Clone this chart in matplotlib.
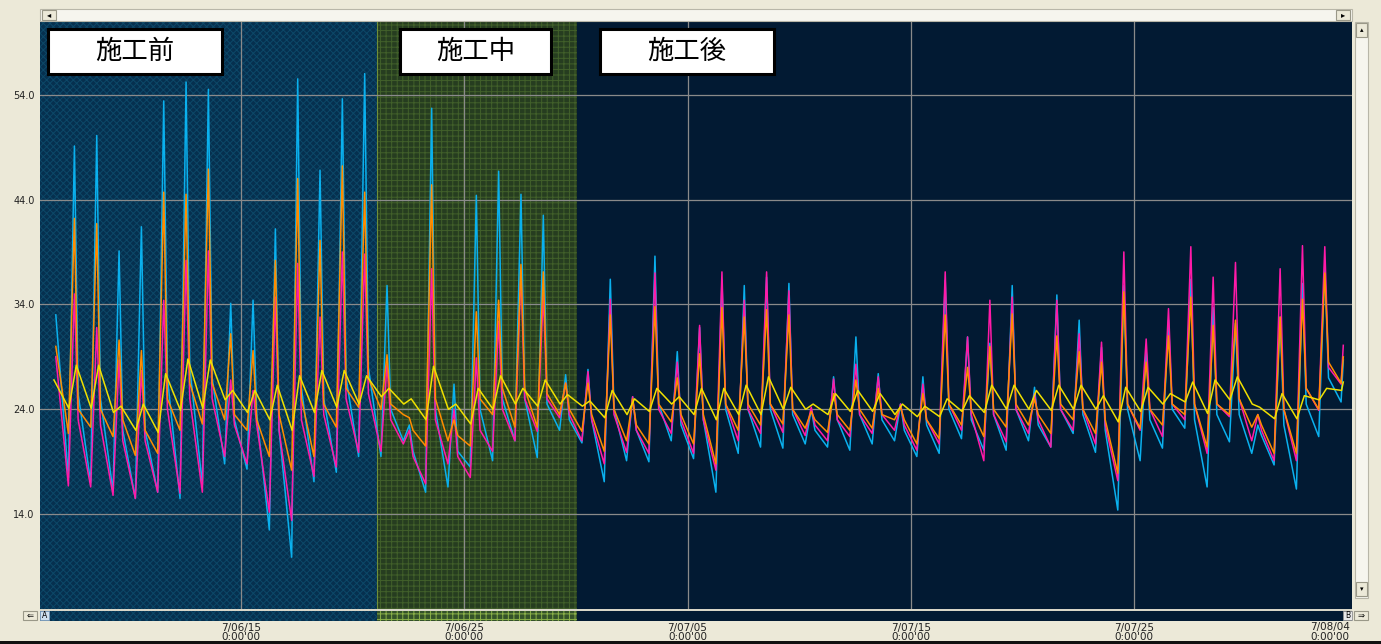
import numpy as np
import matplotlib
matplotlib.use("Agg")
import matplotlib.pyplot as plt
from matplotlib.patches import Rectangle

nan = np.nan

# day 0 = 6/06 0:00 ; one value per day (index = day number)
# cyan / magenta / orange: morning low (6.5h), afternoon peak (13h), evening (17h)
cyan_lo = [nan, 17.5, 17.0, 16.2, 15.5, 16.1, 15.5, 16.8, 18.8, 18.3, 12.5, 9.9, 17.1, 18.0, 19.5,
           19.5, 21.0, 16.1, 16.6, 18.5, 19.1, 21.0, 19.4, 22.0, 20.8, 17.1, 19.1, 19.0, 21.0, 19.3,
           16.1, 19.8, 20.4, 20.3, 20.7, 20.4, 20.1, 20.7, 21.0, 19.5, 19.8, 21.2, 20.1, 20.1, 21.0,
           20.4, 21.7, 19.9, 14.4, 19.1, 20.3, 22.2, 16.6, 20.9, 19.8, 18.7, 16.4, 21.4, 24.7]
cyan_hi = [nan, 49.1, 50.1, 39.1, 41.4, 53.4, 55.2, 54.5, 34.1, 34.4, 41.2, 55.5, 46.8, 53.6, 56.0,
           35.8, 22.5, 52.7, 26.4, 44.4, 46.7, 44.5, 42.5, 27.3, 27.8, 36.4, 25.2, 38.6, 29.5, 31.8,
           36.3, 35.8, 36.6, 36.0, 24.0, 27.1, 30.9, 27.4, 24.5, 27.1, 36.3, 30.9, 30.3, 35.8, 26.1,
           34.9, 32.5, 29.9, 35.8, 29.6, 32.5, 36.4, 33.7, 32.2, 22.5, 32.8, 36.0, 37.7, nan]
cyan_ev = [33.0, 25.5, 25.0, 22.0, 22.0, 27.0, 28.0, 27.0, 23.0, 23.5, 22.0, 26.0, 25.0, 27.0, 28.0,
           24.0, 20.0, 24.0, 20.0, 24.0, 25.0, 25.0, 24.5, 23.0, 23.0, 24.0, 22.0, 24.5, 22.5, 23.0,
           24.0, 24.0, 24.0, 23.5, 22.0, 23.0, 23.5, 23.0, 22.0, 22.5, 24.0, 23.0, 23.5, 24.0, 22.5,
           24.0, 23.5, 22.0, 24.0, 23.0, 24.0, 23.0, 23.5, 23.5, 21.5, 22.5, 24.5, 27.0, nan]

mag_lo = [nan, 16.7, 16.6, 15.8, 15.5, 16.1, 16.0, 16.1, 19.5, 18.8, 14.2, 13.4, 17.6, 18.5, 19.9,
          20.0, 20.7, 16.9, 18.8, 17.5, 20.0, 21.0, 21.9, 23.2, 21.0, 18.8, 19.9, 19.8, 21.7, 19.8,
          18.2, 21.0, 21.7, 21.8, 21.5, 21.0, 21.4, 21.7, 22.0, 20.1, 20.7, 22.0, 19.1, 20.9, 21.7,
          20.4, 22.0, 20.7, 17.2, 22.0, 21.4, 23.0, 19.8, 23.3, 21.0, 19.1, 19.1, 23.9, 26.4]
mag_hi = [nan, 35.0, 31.8, 28.7, 27.7, 34.4, 38.2, 39.1, 26.8, 25.8, 34.7, 37.9, 32.8, 39.0, 38.8,
          28.3, 22.0, 37.4, 24.0, 28.9, 32.4, 37.1, 34.9, 26.5, 27.6, 34.5, 25.2, 37.0, 28.5, 32.0,
          37.1, 34.4, 37.1, 35.3, 24.2, 26.9, 28.3, 27.1, 24.5, 26.4, 37.1, 30.9, 34.4, 34.7, 25.5,
          34.4, 31.2, 30.4, 39.0, 30.7, 33.6, 39.5, 36.6, 38.0, 23.5, 37.4, 39.6, 39.5, nan]
mag_ev = [29.0, 23.0, 22.5, 21.0, 21.0, 24.0, 25.0, 25.0, 22.5, 22.5, 22.0, 23.0, 23.5, 25.0, 25.5,
          23.0, 19.5, 23.0, 19.5, 22.0, 24.0, 25.0, 25.0, 23.5, 23.0, 23.5, 22.0, 24.0, 23.0, 23.0,
          24.5, 24.0, 24.5, 24.0, 22.5, 23.0, 23.5, 23.5, 22.5, 23.0, 24.5, 23.5, 23.5, 24.0, 23.0,
          24.0, 24.0, 22.5, 24.5, 24.0, 24.5, 24.5, 24.5, 25.0, 22.0, 24.0, 26.0, 28.0, nan]

org_lo = [nan, 21.7, 22.3, 21.4, 19.6, 19.8, 22.0, 22.6, 23.0, 22.0, 19.5, 18.2, 19.5, 22.3, 24.2,
          24.0, 23.5, 20.5, 21.0, 20.5, 23.5, 22.3, 22.3, 23.5, 21.9, 20.0, 21.0, 20.7, 22.8, 20.7,
          18.8, 22.0, 22.5, 22.6, 22.2, 21.8, 22.0, 22.2, 23.0, 20.7, 21.2, 22.5, 21.4, 22.3, 22.5,
          21.7, 23.0, 21.7, 17.9, 22.2, 22.5, 23.5, 20.4, 23.5, 22.3, 19.8, 19.8, 24.0, 26.5]
org_hi = [nan, 42.2, 41.7, 30.6, 29.6, 44.7, 44.5, 46.9, 31.2, 29.6, 38.2, 46.0, 40.1, 47.2, 44.7,
          29.2, 23.2, 45.4, 23.0, 33.3, 34.4, 37.8, 37.1, 26.5, 26.5, 33.0, 25.0, 33.8, 27.0, 29.3,
          33.7, 32.8, 33.5, 33.0, 23.8, 25.5, 26.8, 26.0, 24.2, 25.5, 33.0, 28.0, 30.0, 33.1, 25.0,
          31.0, 29.5, 28.5, 35.2, 28.5, 31.0, 34.7, 32.0, 32.5, 23.5, 32.8, 34.5, 37.0, nan]
org_ev = [30.0, 24.0, 24.0, 23.0, 22.0, 25.0, 26.5, 26.5, 23.5, 23.0, 23.5, 25.0, 24.5, 26.0, 27.0,
          24.5, 22.0, 25.0, 21.5, 25.0, 26.0, 26.0, 25.5, 24.0, 23.5, 24.0, 22.5, 24.5, 23.5, 23.5,
          24.5, 24.5, 24.5, 24.0, 23.0, 23.5, 24.0, 23.5, 23.0, 23.0, 24.5, 24.0, 24.0, 24.5, 23.5,
          24.5, 24.0, 23.0, 24.5, 24.0, 24.5, 24.5, 24.5, 25.0, 22.5, 24.0, 26.0, 28.5, nan]

# yellow: morning low (7h), afternoon high (15h)
yel_lo = [nan, 24.1, 24.1, 23.7, 22.0, 21.8, 23.9, 24.1, 24.9, 23.7, 23.0, 22.0, 23.7, 24.2, 24.5,
          25.2, 24.5, 23.0, 24.0, 22.6, 24.0, 24.5, 24.3, 24.5, 24.3, 23.2, 23.5, 23.8, 24.5, 23.5,
          23.0, 23.5, 23.5, 24.0, 24.0, 23.5, 23.8, 23.8, 23.5, 23.3, 23.3, 23.8, 23.7, 24.0, 24.0,
          23.9, 24.0, 24.0, 22.8, 23.8, 24.5, 24.7, 23.6, 24.9, 24.5, 23.1, 23.1, 24.9, 25.8]
yel_hi = [26.8, 28.2, 28.2, 24.3, 24.5, 27.4, 28.8, 28.7, 25.8, 25.8, 26.3, 27.2, 27.7, 27.7, 27.2,
          26.0, 25.0, 28.1, 24.5, 26.0, 27.2, 26.0, 26.8, 25.4, 24.8, 25.8, 25.0, 26.0, 25.2, 26.0,
          26.0, 26.3, 27.1, 26.1, 24.5, 25.5, 25.8, 25.5, 24.5, 24.3, 25.0, 25.3, 26.3, 26.3, 25.8,
          26.3, 26.3, 25.3, 26.1, 26.1, 25.5, 26.6, 26.8, 27.1, 24.2, 25.5, 25.3, 26.0, nan]

# last reading, 8/03 ~9h
end_day = 58.37
end_vals = {"cyan": 28.7, "mag": 30.1, "org": 29.0, "yel": 26.6}

phases = ["施工前", "施工中", "施工後"]
phase_edges = [0.0, 15.1, 24.05]
tick_days = [9, 19, 29, 39, 49]
tick_labels = ["7/06/15", "7/06/25", "7/07/05", "7/07/15", "7/07/25"]
last_label = "7/08/04"
y_ticks = [14.0, 24.0, 34.0, 44.0, 54.0]


def build(parts, end):
    xs, ys = [], []
    for d in range(len(parts[0][1])):
        for hour, arr in parts:
            if not np.isnan(arr[d]):
                xs.append(d + hour / 24.0)
                ys.append(arr[d])
    xs.append(end_day)
    ys.append(end)
    return xs, ys


W, H = 1381, 644
BEIGE = "#ece9d8"
NAVY = "#021a33"
plt.rcParams["hatch.linewidth"] = 0.7

fig = plt.figure(figsize=(W / 100, H / 100), dpi=100, facecolor=BEIGE)


def frac(x0, y0, x1, y1):
    return [x0 / W, 1 - y1 / H, (x1 - x0) / W, (y1 - y0) / H]


def px_rect(x0, y0, x1, y1, **kw):
    r = Rectangle((x0 / W, 1 - y1 / H), (x1 - x0) / W, (y1 - y0) / H,
                  transform=fig.transFigure, **kw)
    fig.add_artist(r)
    return r


XMAX = 58.76
PRE_FACE, PRE_HATCH = "#06304f", "#0c4868"
MID_FACE, MID_HATCH = "#263d20", "#41602a"

ax = fig.add_axes(frac(40, 22, 1352, 610))
ax.set_facecolor(NAVY)
ax.axvspan(phase_edges[0], phase_edges[1], facecolor=PRE_FACE, edgecolor=PRE_HATCH,
           hatch="xxxxx", lw=0, zorder=0)
ax.axvspan(phase_edges[1], phase_edges[2], facecolor=MID_FACE, edgecolor=MID_HATCH,
           hatch="+++", lw=0, zorder=0)
ax.axvline(phase_edges[1], color="#6f8f38", lw=0.8, zorder=0.5)

for yv in y_ticks:
    ax.axhline(yv, color="#8a8a8a", lw=0.9, zorder=1)
for xv in tick_days:
    ax.axvline(xv, color="#8a8a8a", lw=0.9, zorder=1)

series = [
    ("cyan", [(6.5, cyan_lo), (13, cyan_hi), (17, cyan_ev)], "#0ab0ee"),
    ("mag", [(6.5, mag_lo), (13, mag_hi), (17, mag_ev)], "#ff1aa8"),
    ("org", [(6.5, org_lo), (13, org_hi), (17, org_ev)], "#ff8c00"),
    ("yel", [(7, yel_lo), (15, yel_hi)], "#f0e000"),
]
for name, parts, col in series:
    xs, ys = build(parts, end_vals[name])
    ax.plot(xs, ys, color=col, lw=1.1, zorder=3)

ax.set_xlim(0, XMAX)
ax.set_ylim(4.87, 60.92)
ax.set_yticks(y_ticks)
ax.set_yticklabels([f"{v:.1f}" for v in y_ticks], fontsize=7, color="#222222")
ax.set_xticks(tick_days)
ax.set_xticklabels([f"{t}\n0:00'00" for t in tick_labels], fontsize=7.5,
                   color="#222222", linespacing=1.0)
ax.tick_params(length=0, axis="x", pad=9)
ax.tick_params(length=0, axis="y", pad=4)
for s in ax.spines.values():
    s.set_visible(False)
fig.text(1330 / W, 1 - 622 / H, f"{last_label}\n0:00'00", fontsize=7.5, color="#222222",
         ha="center", va="top", linespacing=1.0)

# thin overview strip under the plot
strip = fig.add_axes(frac(40, 611, 1352, 621))
strip.set_facecolor(NAVY)
strip.axvspan(phase_edges[0], phase_edges[1], facecolor=PRE_FACE, edgecolor=PRE_HATCH,
              hatch="xxxxx", lw=0)
strip.axvspan(phase_edges[1], phase_edges[2], facecolor="#34522a", edgecolor="#8ab048",
              hatch="+++", lw=0)
strip.set_xlim(0, XMAX)
strip.set_xticks([])
strip.set_yticks([])
for s in strip.spines.values():
    s.set_visible(False)
px_rect(40, 609, 1352, 611, facecolor="#d8d6c8", edgecolor="none", zorder=4)

# window chrome: scrollbars and buttons
px_rect(40, 9, 1352, 21, facecolor="#f6f5ee", edgecolor="#b8b6a8", lw=0.8, zorder=4)
px_rect(42, 10, 56, 20, facecolor="#ece9d8", edgecolor="#9a9888", lw=0.8, zorder=5)
px_rect(1336, 10, 1350, 20, facecolor="#ece9d8", edgecolor="#9a9888", lw=0.8, zorder=5)
fig.text(49 / W, 1 - 15 / H, "◂", fontsize=6, ha="center", va="center", zorder=6)
fig.text(1343 / W, 1 - 15 / H, "▸", fontsize=6, ha="center", va="center", zorder=6)
px_rect(1355, 22, 1368, 598, facecolor="#f6f5ee", edgecolor="#b8b6a8", lw=0.8, zorder=4)
px_rect(1356, 23, 1367, 37, facecolor="#ece9d8", edgecolor="#9a9888", lw=0.8, zorder=5)
px_rect(1356, 582, 1367, 596, facecolor="#ece9d8", edgecolor="#9a9888", lw=0.8, zorder=5)
fig.text(1361.5 / W, 1 - 30 / H, "▴", fontsize=5, ha="center", va="center", zorder=6)
fig.text(1361.5 / W, 1 - 589 / H, "▾", fontsize=5, ha="center", va="center", zorder=6)
px_rect(23, 611, 37, 620, facecolor="#ece9d8", edgecolor="#9a9888", lw=0.8, zorder=5)
px_rect(1354, 611, 1368, 620, facecolor="#ece9d8", edgecolor="#9a9888", lw=0.8, zorder=5)
fig.text(30 / W, 1 - 615.5 / H, "⇐", fontsize=6, ha="center", va="center", zorder=6)
fig.text(1361 / W, 1 - 615.5 / H, "⇒", fontsize=6, ha="center", va="center", zorder=6)
px_rect(40, 611, 49, 620, facecolor="#cfe0ee", edgecolor="#7f9fbf", lw=0.6, zorder=5)
px_rect(1343, 611, 1352, 620, facecolor="#e8e8e8", edgecolor="#909090", lw=0.6, zorder=5)
fig.text(44.5 / W, 1 - 615.5 / H, "A", fontsize=5.5, ha="center", va="center", zorder=6)
fig.text(1347.5 / W, 1 - 615.5 / H, "B", fontsize=5.5, ha="center", va="center", zorder=6)
px_rect(0, 641, W, H, facecolor="#111111", edgecolor="none", zorder=5)

# phase labels
boxes = [(48, 29, 222, 74), (400, 29, 551, 74), (600, 29, 774, 74)]
for text, (x0, y0, x1, y1) in zip(phases, boxes):
    px_rect(x0, y0, x1, y1, facecolor="white", edgecolor="black", lw=2.2, zorder=7)
    fig.text((x0 + x1) / 2 / W, 1 - (y0 + y1) / 2 / H, text, fontsize=19,
             family=["Noto Sans CJK JP", "DejaVu Sans"], ha="center", va="center", zorder=8)

fig.savefig("out.png", dpi=100, facecolor=BEIGE)
